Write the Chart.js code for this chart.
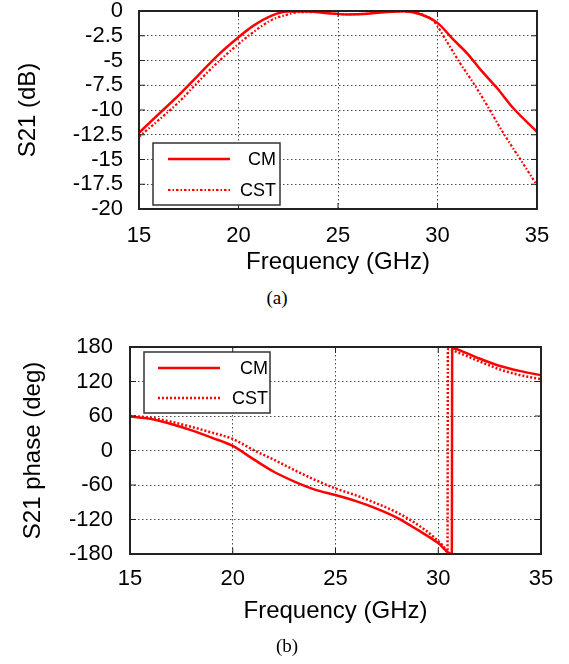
<!DOCTYPE html>
<html>
<head>
<meta charset="utf-8">
<title>S21 magnitude and phase</title>
<script src="https://cdn.jsdelivr.net/npm/chart.js@4.4.1/dist/chart.umd.min.js"></script>
<style>
  html, body { margin: 0; padding: 0; background: #fff; }
  body { width: 569px; height: 664px; position: relative; overflow: hidden; }
  .panel { position: absolute; left: 0; width: 569px; }
  #panelA { top: 0; height: 285px; }
  #panelB { top: 330px; height: 310px; }
  .caption {
    position: absolute;
    font-family: "Liberation Serif", "Times New Roman", serif;
    font-size: 19px;
    color: #000;
    transform: translate(-50%, -50%);
  }
</style>
</head>
<body>
<div class="panel" id="panelA"><canvas id="magChart"></canvas></div>
<div class="caption" style="left:277px; top:298px;">(a)</div>
<div class="panel" id="panelB"><canvas id="phaseChart"></canvas></div>
<div class="caption" style="left:287px; top:646px;">(b)</div>

<script>
// S21 magnitude (dB)
const magFreqCM = [15, 16, 17, 18, 19, 20, 20.7, 21.7, 22.5, 23.5, 24.5, 25.5, 26.5, 27.5, 28.3, 29.1, 30, 30.8, 31.5, 32.15, 33, 33.8, 35];
const magCM = [-12.3, -10.4, -8.5, -6.45, -4.4, -2.65, -1.55, -0.44, -0.06, -0.05, -0.22, -0.35, -0.28, -0.1, -0.03, -0.3, -1.2, -2.9, -4.3, -5.9, -7.8, -9.8, -12.2];
const magFreqCST = [15, 16, 17, 18, 19, 20, 20.7, 21.7, 22.5, 23, 24, 25, 26, 27, 28, 28.8, 29.3, 29.8, 30.46, 31.13, 31.8, 32.47, 33.3, 34.2, 35];
const magCST = [-12.7, -11.0, -9.2, -7.1, -5.1, -3.33, -2.2, -0.87, -0.35, -0.12, -0.12, -0.3, -0.32, -0.15, -0.04, -0.1, -0.4, -1.0, -3.06, -5.25, -7.27, -9.46, -12.3, -15.1, -17.6];

// S21 phase (deg), wrapped to +-180
const phaseFreqCM = [15, 16, 17, 18, 19, 20, 21, 22, 23, 24, 25, 26, 27, 28, 29, 30, 30.66, 30.68, 31.2, 32, 33, 34, 35];
const phaseCM = [59, 55, 46, 35, 22, 8, -15, -37, -54, -68, -77.5, -88, -101, -117, -138, -161, -180, 178, 172, 160, 147, 138, 131];
const phaseFreqCST = [15, 16, 17, 18, 19, 20, 21, 22, 23, 24, 25, 26, 27, 28, 29, 29.76, 30.38, 30.45, 30.47, 31, 32, 33, 34, 35];
const phaseCST = [60, 57, 50, 41, 31, 20, 1, -16, -34, -51, -66, -78, -92, -108, -129, -150, -174, -180, 176, 170, 155, 141, 131, 124];

const freqTicks = [15, 20, 25, 30, 35];
const magTicks = [0, -2.5, -5, -7.5, -10, -12.5, -15, -17.5, -20];
const phaseTicks = [180, 120, 60, 0, -60, -120, -180];

const toPoints = (xs, ys) => xs.map((x, i) => ({ x, y: ys[i] }));

const sansFamily = '"Liberation Sans", Arial, Helvetica, sans-serif';
const tickFont = { family: sansFamily, size: 22, lineHeight: 1 };
const titleFont = { family: sansFamily, size: 24 };
const gridColor = 'rgba(0,0,0,0.7)';

// plot frame plus short inward tick marks on all four sides
const frame = {
  id: 'frame',
  afterDatasetsDraw(chart) {
    const { ctx, chartArea: a, scales: { x, y } } = chart;
    ctx.save();
    ctx.strokeStyle = '#222';
    ctx.lineWidth = 1;
    ctx.beginPath();
    x.ticks.forEach((t) => {
      const px = x.getPixelForValue(t.value);
      ctx.moveTo(px, a.bottom); ctx.lineTo(px, a.bottom - 6);
      ctx.moveTo(px, a.top); ctx.lineTo(px, a.top + 6);
    });
    y.ticks.forEach((t) => {
      const py = y.getPixelForValue(t.value);
      ctx.moveTo(a.left, py); ctx.lineTo(a.left + 6, py);
      ctx.moveTo(a.right, py); ctx.lineTo(a.right - 6, py);
    });
    ctx.stroke();
    ctx.lineWidth = 2;
    ctx.strokeRect(a.left, a.top, a.right - a.left, a.bottom - a.top);
    ctx.restore();
  }
};

// boxed legend: line sample on the left, label right-aligned
const boxLegend = {
  id: 'boxLegend',
  afterDatasetsDraw(chart, args, opts) {
    const { ctx, chartArea } = chart;
    const x0 = chartArea.left + opts.left;
    const y0 = chartArea.top + opts.top;
    ctx.save();
    ctx.fillStyle = '#fff';
    ctx.fillRect(x0, y0, opts.width, opts.height);
    ctx.lineWidth = 1.5;
    ctx.strokeStyle = '#333';
    ctx.strokeRect(x0, y0, opts.width, opts.height);
    ctx.font = '18px ' + sansFamily;
    ctx.textAlign = 'right';
    ctx.textBaseline = 'middle';
    chart.data.datasets.forEach((ds, i) => {
      const yy = y0 + opts.rows[i];
      ctx.beginPath();
      ctx.setLineDash(ds.borderDash || []);
      ctx.lineWidth = ds.borderWidth;
      ctx.strokeStyle = ds.borderColor;
      ctx.moveTo(x0 + opts.lineFrom, yy);
      ctx.lineTo(x0 + opts.lineTo, yy);
      ctx.stroke();
      ctx.setLineDash([]);
      ctx.fillStyle = '#000';
      ctx.fillText(ds.label, x0 + opts.textRight, yy + 1);
    });
    ctx.restore();
  }
};

const makeChart = (canvasId, cfg) => new Chart(document.getElementById(canvasId), {
  type: 'line',
  data: { datasets: cfg.datasets },
  options: {
    responsive: true,
    maintainAspectRatio: false,
    animation: false,
    layout: { padding: { top: cfg.padTop, right: cfg.padRight, left: 0, bottom: 0 } },
    elements: { point: { radius: 0 }, line: { cubicInterpolationMode: 'monotone' } },
    plugins: { legend: { display: false }, tooltip: { enabled: false }, boxLegend: cfg.legend },
    scales: {
      x: {
        type: 'linear', min: 15, max: 35,
        afterBuildTicks: (s) => { s.ticks = freqTicks.map((v) => ({ value: v })); },
        afterFit: (s) => { s.height = cfg.xHeight; },
        grid: { color: gridColor, lineWidth: 1, drawTicks: true, tickLength: cfg.xTickPad, tickColor: 'rgba(0,0,0,0)' },
        border: { display: false, dash: [1.5, 2.5] },
        ticks: { padding: 0, color: '#000', font: tickFont, maxRotation: 0, autoSkip: false },
        title: { display: true, text: 'Frequency (GHz)', color: '#000', font: titleFont, padding: { top: 0, bottom: cfg.xTitlePad } }
      },
      y: {
        type: 'linear', min: cfg.yMin, max: cfg.yMax,
        afterBuildTicks: (s) => { s.ticks = cfg.yTicks.map((v) => ({ value: v })); },
        afterFit: (s) => { s.width = cfg.yWidth; },
        // transparent tick marks keep the labels off the frame without padding the plot top
        grid: { color: gridColor, lineWidth: 1, drawTicks: true, tickLength: cfg.yTickPad, tickColor: 'rgba(0,0,0,0)' },
        border: { display: false, dash: [1.5, 2.5] },
        ticks: { padding: 0, color: '#000', font: tickFont, autoSkip: false },
        title: { display: true, text: cfg.yTitle, color: '#000', font: titleFont, padding: { top: cfg.yTitlePad, bottom: 0 } }
      }
    }
  },
  plugins: [frame, boxLegend]
});

makeChart('magChart', {
  datasets: [
    { label: 'CM', data: toPoints(magFreqCM, magCM), borderColor: '#ff0000', borderWidth: 2.5, fill: false },
    { label: 'CST', data: toPoints(magFreqCST, magCST), borderColor: '#ff0000', borderWidth: 2.2, borderDash: [2.5, 2, 1.5, 2], fill: false }
  ],
  padTop: 11, padRight: 32,
  xHeight: 76, xTickPad: 16, xTitlePad: 8,
  yWidth: 139, yTickPad: 16, yTitlePad: 14,
  yMin: -20, yMax: 0, yTicks: magTicks, yTitle: 'S21 (dB)',
  legend: { left: 14, top: 132, width: 127, height: 62, rows: [16, 47], lineFrom: 15, lineTo: 77, textRight: 123 }
});

makeChart('phaseChart', {
  datasets: [
    { label: 'CM', data: toPoints(phaseFreqCM, phaseCM), borderColor: '#ff0000', borderWidth: 2.5, fill: false },
    { label: 'CST', data: toPoints(phaseFreqCST, phaseCST), borderColor: '#ff0000', borderWidth: 2.5, borderDash: [2, 2], fill: false }
  ],
  padTop: 17, padRight: 28,
  xHeight: 86, xTickPad: 14, xTitlePad: 14,
  yWidth: 130, yTickPad: 17, yTitlePad: 19,
  yMin: -180, yMax: 180, yTicks: phaseTicks, yTitle: 'S21 phase (deg)',
  legend: { left: 14, top: 5, width: 126, height: 61, rows: [16, 46], lineFrom: 14, lineTo: 76, textRight: 124 }
});
</script>
</body>
</html>
